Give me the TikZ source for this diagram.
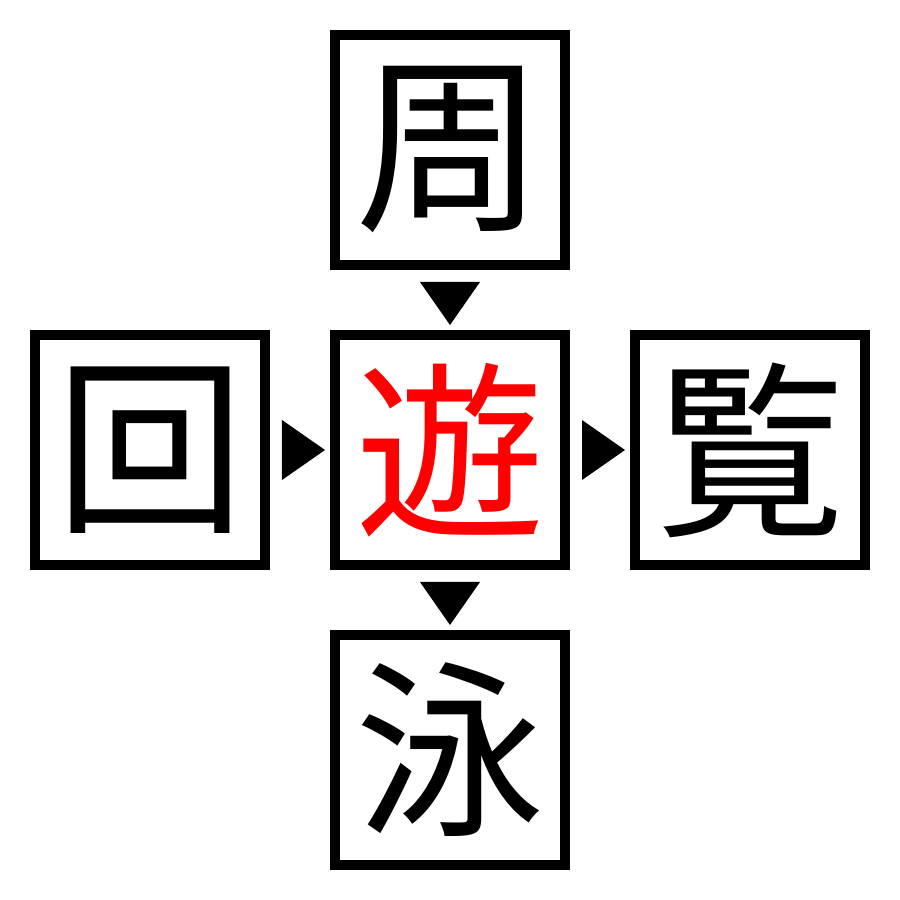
\documentclass[tikz,border=0pt]{standalone}
\usepackage{fontspec}
\newfontfamily\cjk{Noto Sans CJK JP}
\usetikzlibrary{positioning,calc}

\begin{document}
\begin{tikzpicture}[
    cell/.style={draw, rectangle, line width=0.1cm, minimum size=2.3cm, inner sep=0pt, font=\cjk\fontsize{54}{54}\selectfont},
    tip/.style={fill=black}
]
    \useasboundingbox (0,0) rectangle (9,9);
    \node [cell, text=red] (mid) at (4.5,4.5) {遊};
    
    \node [cell, above=0.6cm of mid] (top) {周};
    \node [cell, left=0.6cm of mid] (left) {回};
    \node [cell, right=0.6cm of mid] (right) {覧};
    \node [cell, below=0.6cm of mid] (bottom) {泳};
    
    \fill [tip] ($(top.south)+(-0.3,-0.12)$) -- ++(0.6,0) -- ++(-0.3,-0.43) -- cycle;
    \fill [tip] ($(mid.south)+(-0.3,-0.12)$) -- ++(0.6,0) -- ++(-0.3,-0.43) -- cycle;
    \fill [tip] ($(left.east)+(0.12,0.3)$) -- ++(0,-0.6) -- ++(0.43,0.3) -- cycle;
    \fill [tip] ($(mid.east)+(0.12,0.3)$) -- ++(0,-0.6) -- ++(0.43,0.3) -- cycle;
\end{tikzpicture}
\end{document}
